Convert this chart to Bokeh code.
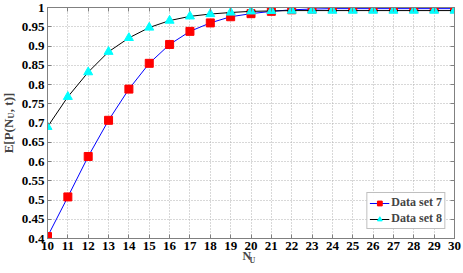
from bokeh.plotting import figure
from bokeh.models import (FixedTicker, CustomJSTickFormatter, Legend, LegendItem,
                          Range1d, Title, LinearAxis)
from bokeh.embed import file_html
from bokeh.resources import INLINE

n_u = list(range(10, 31))
set7 = [0.405, 0.508, 0.613, 0.707, 0.788, 0.855, 0.904, 0.938, 0.960, 0.976,
        0.984, 0.990, 0.994, 0.996, 0.997, 0.997, 0.997, 0.997, 0.997, 0.997, 0.997]
set8 = [0.690, 0.768, 0.832, 0.885, 0.921, 0.948, 0.966, 0.977, 0.983, 0.987,
        0.990, 0.991, 0.992, 0.992, 0.992, 0.992, 0.992, 0.992, 0.992, 0.992, 0.992]
x_ticks = list(range(10, 31))
y_ticks = [0.4, 0.45, 0.5, 0.55, 0.6, 0.65, 0.7, 0.75, 0.8, 0.85, 0.9, 0.95, 1.0]

FONT = "Liberation Serif"
AXC = "#808080"

p = figure(width=463, height=273, output_backend="svg", toolbar_location=None,
           x_range=Range1d(10, 30), y_range=Range1d(0.4, 1.0),
           min_border_left=47, min_border_right=9, min_border_top=7, min_border_bottom=35)

p.outline_line_color = AXC
p.outline_line_width = 1
p.background_fill_color = "white"
p.border_fill_color = "white"

def style_axis(ax, labels=True):
    ax.axis_line_color = AXC
    ax.major_tick_line_color = AXC
    ax.major_tick_in = 4
    ax.major_tick_out = 0
    ax.minor_tick_line_color = None
    ax.major_label_text_font = FONT
    ax.major_label_text_font_style = "bold"
    if labels:
        ax.major_label_text_color = "black"
        ax.major_label_text_font_size = "13px"
        ax.major_label_standoff = 3
    else:
        ax.major_label_text_color = None
        ax.major_label_text_font_size = "1px"
        ax.major_label_standoff = 0

style_axis(p.xaxis[0])
style_axis(p.yaxis[0])
p.xaxis[0].ticker = FixedTicker(ticks=x_ticks)
p.yaxis[0].ticker = FixedTicker(ticks=y_ticks)
p.yaxis[0].formatter = CustomJSTickFormatter(
    code="var s = tick.toFixed(2); s = s.replace(/0+$/, ''); s = s.replace(/\\.$/, ''); return s;")

right_ax = LinearAxis(ticker=FixedTicker(ticks=y_ticks))
style_axis(right_ax, labels=False)
p.add_layout(right_ax, "right")
top_ax = LinearAxis(ticker=FixedTicker(ticks=x_ticks))
style_axis(top_ax, labels=False)
p.add_layout(top_ax, "above")

p.grid.grid_line_color = "#b0b0b0"
p.grid.grid_line_dash = "1 2"
p.grid.grid_line_width = 1

l7 = p.line(n_u, set7, line_color="#0000ff", line_width=1)
m7 = p.scatter(n_u, set7, marker="square", size=8, fill_color="#ff0000", line_color="#ff0000")
l8 = p.line(n_u, set8, line_color="black", line_width=1)
m8 = p.scatter(n_u, set8, marker="triangle", size=9, fill_color="#00ffff", line_color="#00ffff")

legend = Legend(items=[LegendItem(label="Data set 7", renderers=[l7, m7]),
                       LegendItem(label="Data set 8", renderers=[l8, m8])],
                location="bottom_right")
legend.label_text_font = FONT
legend.label_text_font_style = "bold"
legend.label_text_font_size = "12px"
legend.border_line_color = AXC
legend.margin = 9
legend.padding = 2
legend.spacing = 1
legend.glyph_width = 20
legend.glyph_height = 12
legend.label_standoff = 2
legend.label_height = 12
p.add_layout(legend)

# y-axis title E[P(N_U, t)] : subscript box first (next to the tick labels), main text outside
p.add_layout(Title(text="U", align="left", offset=120, vertical_align="middle", standoff=3,
                   text_font=FONT, text_font_style="bold", text_font_size="8px"), "left")
p.add_layout(Title(text="E[P(N\u00a0\u00a0, t)]", align="center", vertical_align="bottom",
                   standoff=-22, text_font=FONT, text_font_style="bold",
                   text_font_size="13px"), "left")

# x-axis title N_U
p.add_layout(Title(text="N", align="left", offset=195, vertical_align="middle", standoff=-10,
                   text_font=FONT, text_font_style="bold", text_font_size="12px"), "below")
p.add_layout(Title(text="U", align="left", offset=202, vertical_align="middle", standoff=-7,
                   text_font=FONT, text_font_style="bold", text_font_size="8px"), "below")

open("out.html", "w").write(file_html(p, INLINE))
